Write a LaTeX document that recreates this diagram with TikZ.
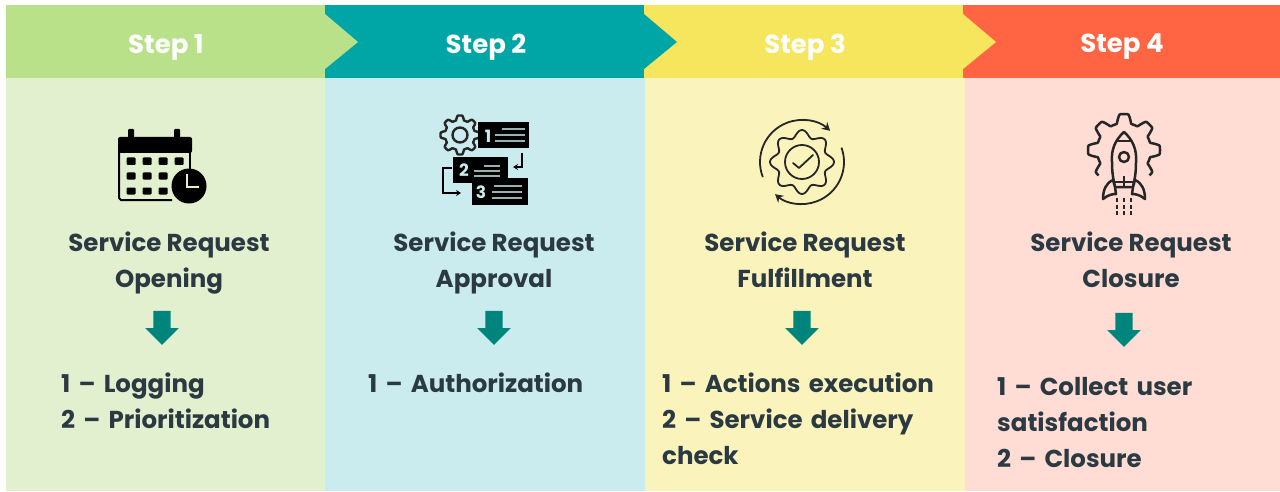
\documentclass[tikz,border=0pt]{standalone}
\usepackage{fontspec}
\setmainfont{Poppins}
\usepackage{xcolor}
\definecolor{stepgreen}{HTML}{B9E18A}
\definecolor{stepteal}{HTML}{00A6A6}
\definecolor{stepyellow}{HTML}{F5E65E}
\definecolor{steporange}{HTML}{FF6542}
\definecolor{bodygreen}{HTML}{E3F0D0}
\definecolor{bodyteal}{HTML}{CBECEE}
\definecolor{bodyyellow}{HTML}{FAF4BC}
\definecolor{bodyorange}{HTML}{FFDDD5}
\definecolor{arrowteal}{HTML}{00857D}
\definecolor{inkdark}{HTML}{2B3A42}
\usetikzlibrary{shapes.arrows,arrows.meta}
\tikzset{
  steplabel/.style={text=white,font=\bfseries\fontsize{26}{26}\selectfont},
  titlelabel/.style={text=inkdark,font=\bfseries\fontsize{24.5}{35.5}\selectfont,align=center},
  listlabel/.style={text=inkdark,font=\bfseries\fontsize{24.5}{36}\selectfont,align=left,anchor=west,text width=300pt,inner sep=0pt},
  downarrow/.style={single arrow,fill=arrowteal,shape border rotate=270,minimum height=34pt,text width=17pt,text height=0pt,text depth=0pt,single arrow head extend=8pt,inner sep=0pt,single arrow head indent=0pt},
  iconline/.style={draw=black!85,line width=1.8pt,line join=round},
  boxnum/.style={text=bodyteal,font=\bfseries\fontsize{17}{17}\selectfont,inner sep=0pt}
}
% rounded gear outline: \gearcurve{domain}{r min}{r max}
\newcommand{\gearcurve}[3]{plot[domain=#1,samples=145,smooth] (\x:{max(#2,min(#3,(#2+#3)/2+(#3-#2)*0.9*cos(8*\x)))})}

\begin{document}
\begin{tikzpicture}[x=1pt,y=-1pt]
  \useasboundingbox (0,0) rectangle (1280,492);
  % Column bodies
  \foreach \xa/\xb/\col in {6/325/bodygreen,325/645/bodyteal,645/965/bodyyellow,965/1280/bodyorange} {
    \fill[\col] (\xa,78) rectangle (\xb,491);
  }
  % Step headers with their chevrons
  \foreach \xa/\xb/\col/\i/\lx in {6/325/stepgreen/1/166,325/644/stepteal/2/486,644/963/stepyellow/3/805,963/1280/steporange/4/1122} {
    \fill[\col] (\xa,5) rectangle (\xb,78);
    \node[steplabel] (step\i) at (\lx,47) {Step \i};
  }
  \foreach \xa/\col in {325/stepgreen,644/stepteal,963/stepyellow} {
    \fill[\col] (\xa,14) -- (\xa+33,42) -- (\xa,69) -- cycle;
  }

  % Titles
  \node[titlelabel] (title1) at (169,265) {Service Request\\Opening\strut};
  \node[titlelabel] (title2) at (494,265) {Service Request\\Approval\strut};
  \node[titlelabel] (title3) at (805,265) {Service Request\\Fulfillment\strut};
  \node[titlelabel] (title4) at (1131,265) {Service Request\\Closure\strut};

  % Down arrows
  \node[downarrow] (arrow1) at (162,323.5) {};
  \node[downarrow] (arrow2) at (494,323.5) {};
  \node[downarrow] (arrow3) at (802,323.5) {};
  \node[downarrow] (arrow4) at (1124,325.5) {};

  % Lists
  \node[listlabel] (list1) at (61,406) {1 – Logging\\2 – Prioritization\strut};
  \node[listlabel] (list2) at (368,385) {1 – Authorization\strut};
  \node[listlabel] (list3) at (662,424) {1 – Actions execution\\2 – Service delivery\\check\strut};
  \node[listlabel,text width=270pt] (list4) at (997,428) {1 – Collect user\\satisfaction\\2 – Closure\strut};

  % Calendar icon
  \draw[line width=2pt,black] (119,150) -- (119,198) -- ++(2,2) -- (172,200);
  \draw[line width=2pt,black] (190,150) -- (190,172);
  \fill[black,rounded corners=2pt] (118,137) rectangle (192,153);
  \foreach \x in {131,177} {\fill[black,rounded corners=1pt] (\x-3,129) rectangle (\x+3,140);}
  \foreach \x in {131,147,163,179} {\fill[black,rounded corners=1pt] (\x-4.5,157.5) rectangle (\x+4.5,165);}
  \foreach \y in {176,191} {
    \foreach \x in {131,147,163} {\fill[black,rounded corners=1pt] (\x-4.5,\y-3.5) rectangle (\x+4.5,\y+3.5);}
  }
  \fill[black] (189,186) circle[radius=17.5];
  \draw[bodygreen,line width=2.2pt] (187,174) -- (187,187) -- (199,187);

  % Numbered list icon
  \begin{scope}[shift={(460,135)}]
    \draw[iconline,line width=2.4pt] \gearcurve{0:360}{15}{19.5} -- cycle;
    \draw[iconline,line width=2.4pt] (0,0) circle[radius=7.5];
  \end{scope}
  \foreach \xa/\ya/\xb/\yb in {478/122/529/148,453/157/508/183,472/178/528/205} {
    \fill[black] (\xa,\ya) rectangle (\xb,\yb);
  }
  \foreach \x/\y/\i in {488/136/1,464/170/2,481/192/3} {
    \node[boxnum] (num\i) at (\x,\y) {\i};
  }
  \foreach \xa/\xb/\y in {502/525/129,495/525/135,495/525/141,
                          484/500/166,474/500/171,474/500/176,
                          494/522/186,492/522/192,492/522/198} {
    \draw[bodyteal!75!black,line width=2.2pt] (\xa,\y) -- (\xb,\y);
  }
  \draw[-{Stealth[length=5pt,width=6pt]},black,line width=1.6pt] (522,153) -- (522,167) -- (513,167);
  \draw[-{Stealth[length=5pt,width=6pt]},black,line width=1.6pt] (452,168) -- (443,168) -- (443,193) -- (461,193);

  % Gear with check icon
  \begin{scope}[shift={(802,162)}]
    \draw[iconline] plot[domain=0:360,samples=145,smooth] (\x:{28.5+3.5*cos(8*\x)}) -- cycle;
    \draw[iconline] (0,0) circle[radius=17];
    \draw[iconline,line cap=round] (-9,1) -- (-3,6) -- (11,-7);
    \draw[iconline,-{Stealth[length=8pt,width=9pt]}] (201:42pt) arc[start angle=201,end angle=48,radius=42pt];
    \draw[iconline,-{Stealth[length=8pt,width=9pt]}] (20:42pt) arc[start angle=20,end angle=-130,radius=42pt];
  \end{scope}

  % Rocket with gear icon
  \begin{scope}[shift={(1124,150)}]
    \draw[iconline,line width=2.5pt] \gearcurve{135:405}{27}{36};
    \draw[iconline,fill=bodyorange,line width=2.5pt] (0,-18) .. controls (-9,-10) and (-13,0) .. (-12,12)
      .. controls (-12,22) and (-11,28) .. (-9,37) -- (9,37)
      .. controls (11,28) and (12,22) .. (12,12) .. controls (13,0) and (9,-10) .. (0,-18) -- cycle;
    \draw[iconline,line width=2.5pt] (-7,-9) -- (7,-9);
    \draw[iconline,line width=2.5pt] (0,7) circle[radius=5];
    \draw[iconline,line width=2.5pt] (0,26) -- (0,37);
    \draw[iconline,line width=2.5pt] (-9,32) -- (9,32);
    \draw[iconline,fill=bodyorange,line width=2.5pt] (-11,30) .. controls (-18,33) and (-21,40) .. (-21,49) .. controls (-16,45) and (-12,44) .. (-8,44) -- (-9,37) -- cycle;
    \draw[iconline,fill=bodyorange,line width=2.5pt] (11,30) .. controls (18,33) and (21,40) .. (21,49) .. controls (16,45) and (12,44) .. (8,44) -- (9,37) -- cycle;
    \foreach \x in {-7,0,7} {\draw[black!85,line width=2.8pt,dash pattern=on 4pt off 2.5pt] (\x,48) -- (\x,67);}
  \end{scope}
\end{tikzpicture}
\end{document}
